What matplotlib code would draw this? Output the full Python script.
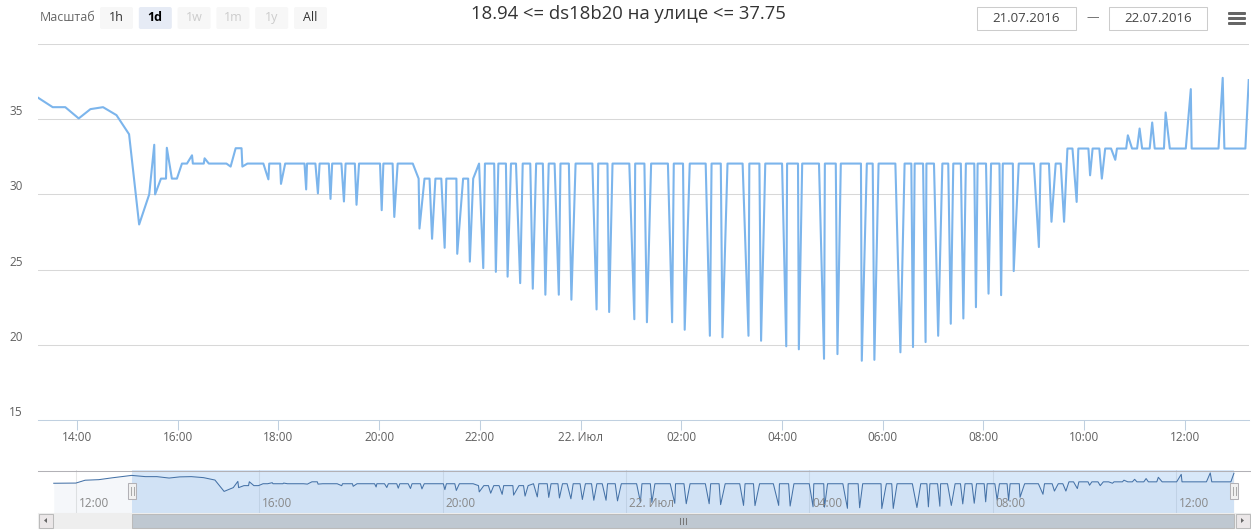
import matplotlib
matplotlib.use("Agg")
import matplotlib.pyplot as plt
import matplotlib.dates as mdates
from matplotlib.patches import Rectangle, FancyBboxPatch, Polygon
from matplotlib.ticker import FuncFormatter
from matplotlib.transforms import offset_copy
import pandas as pd

plt.rcParams['font.family'] = ['Open Sans', 'DejaVu Sans']

W, H = 1251, 530

######  data  ######

chart_title = "18.94 <= ds18b20 на улице <= 37.75"

times = [
    "21 11:31", "21 12:00", "21 12:12", "21 12:30", "21 12:48", "21 13:04", "21 13:13",
    "21 13:31", "21 13:46", "21 14:02", "21 14:16", "21 14:31", "21 14:47", "21 15:02", "21 15:14",
    "21 15:26", "21 15:32", "21 15:33", "21 15:40", "21 15:46", "21 15:47", "21 15:53", "21 15:59",
    "21 16:05", "21 16:11", "21 16:17", "21 16:18", "21 16:31", "21 16:32", "21 16:37", "21 16:58",
    "21 17:03", "21 17:09", "21 17:16", "21 17:17", "21 17:23", "21 17:42", "21 17:48", "21 17:49",
    "21 18:02", "21 18:03", "21 18:08", "21 18:31", "21 18:33", "21 18:34", "21 18:44", "21 18:47", "21 18:49",
    "21 19:00", "21 19:02", "21 19:04", "21 19:15", "21 19:18", "21 19:20", "21 19:31", "21 19:33", "21 19:36",
    "21 20:01", "21 20:03", "21 20:05", "21 20:16", "21 20:18", "21 20:22", "21 20:40", "21 20:47", "21 20:48",
    "21 20:54", "21 21:00", "21 21:03", "21 21:07", "21 21:14", "21 21:18", "21 21:20", "21 21:32", "21 21:33",
    "21 21:40", "21 21:46", "21 21:48", "21 21:52", "21 21:59", "21 22:04", "21 22:06", "21 22:17", "21 22:19",
    "21 22:22", "21 22:31", "21 22:33", "21 22:37", "21 22:43", "21 22:48", "21 22:51", "21 23:00", "21 23:03",
    "21 23:07", "21 23:15", "21 23:18", "21 23:22", "21 23:29", "21 23:34", "21 23:36", "21 23:46", "21 23:49", "21 23:54",
    "22 00:14", "22 00:19", "22 00:21", "22 00:32", "22 00:34", "22 00:38", "22 00:58", "22 01:04", "22 01:05",
    "22 01:16", "22 01:19", "22 01:24", "22 01:44", "22 01:49", "22 01:51", "22 02:02", "22 02:04", "22 02:10",
    "22 02:29", "22 02:34", "22 02:36", "22 02:47", "22 02:49", "22 02:55", "22 03:13", "22 03:20", "22 03:21",
    "22 03:33", "22 03:35", "22 03:40", "22 04:00", "22 04:05", "22 04:06", "22 04:19", "22 04:20", "22 04:24",
    "22 04:44", "22 04:50", "22 04:51", "22 05:04", "22 05:06", "22 05:10", "22 05:34", "22 05:35", "22 05:41",
    "22 05:48", "22 05:50", "22 05:55", "22 06:15", "22 06:21", "22 06:26", "22 06:34", "22 06:36", "22 06:38",
    "22 06:48", "22 06:51", "22 06:52", "22 07:01", "22 07:06", "22 07:11", "22 07:18", "22 07:21", "22 07:24",
    "22 07:33", "22 07:36", "22 07:39", "22 07:49", "22 07:51", "22 07:53", "22 08:03", "22 08:06", "22 08:09",
    "22 08:19", "22 08:21", "22 08:23", "22 08:35", "22 08:36", "22 08:42", "22 09:00", "22 09:06", "22 09:08",
    "22 09:18", "22 09:21", "22 09:26", "22 09:32", "22 09:36", "22 09:40", "22 09:46", "22 09:51", "22 09:53",
    "22 10:05", "22 10:07", "22 10:10", "22 10:18", "22 10:21", "22 10:25", "22 10:32", "22 10:37", "22 10:39",
    "22 10:50", "22 10:52", "22 10:57", "22 11:03", "22 11:06", "22 11:09", "22 11:18", "22 11:21", "22 11:24",
    "22 11:35", "22 11:37", "22 11:42", "22 12:01", "22 12:07", "22 12:08", "22 12:40", "22 12:45", "22 12:47",
    "22 13:12", "22 13:16",
]

temps = [
    32.3, 32.4, 33.9, 34.2, 35.2, 36.0, 36.45,
    35.8, 35.8, 35.05, 35.67, 35.8, 35.27, 34.0, 28.0,
    30.0, 33.3, 30.0, 31.05, 31.05, 33.1, 31.05, 31.05,
    32.05, 32.05, 32.6, 32.05, 32.05, 32.4, 32.05, 32.05,
    31.85, 33.07, 33.07, 31.85, 32.05, 32.05, 31.0, 32.05,
    32.05, 30.7, 32.05, 32.05, 30.33, 32.05, 32.05, 30.07, 32.05,
    32.05, 29.7, 32.05, 32.05, 29.53, 32.05, 32.05, 29.31, 32.05,
    32.05, 28.95, 32.05, 32.05, 28.5, 32.05, 32.05, 31.05, 27.73,
    31.05, 31.05, 27.05, 31.05, 31.05, 26.45, 31.05, 31.05, 26.05,
    31.05, 31.05, 25.53, 31.05, 32.05, 25.1, 32.05, 32.05, 24.85,
    32.05, 32.05, 24.53, 32.05, 32.05, 24.1, 32.05, 32.05, 23.73,
    32.05, 32.05, 23.33, 32.05, 32.05, 23.33, 32.05, 32.05, 23.0, 32.05,
    32.05, 22.35, 32.05, 32.05, 22.18, 32.05, 32.05, 21.7, 32.05,
    32.05, 21.5, 32.05, 32.05, 21.5, 32.05, 32.05, 21.0, 32.05,
    32.05, 20.6, 32.05, 32.05, 20.5, 32.05, 32.05, 20.6, 32.05,
    32.05, 20.27, 32.05, 32.05, 19.9, 32.05, 32.05, 19.7, 32.05,
    32.05, 19.07, 32.05, 32.05, 19.38, 32.05, 32.05, 18.94, 32.05,
    32.05, 19.0, 32.05, 32.05, 19.5, 32.05, 32.05, 19.85, 32.05,
    32.05, 20.18, 32.05, 32.05, 20.6, 32.05, 32.05, 21.4, 32.05,
    32.05, 21.75, 32.05, 32.05, 22.5, 32.05, 32.05, 23.4, 32.05,
    32.05, 23.3, 32.05, 32.05, 24.9, 32.05, 32.05, 26.5, 32.05,
    32.05, 28.18, 32.05, 32.05, 28.18, 33.05, 33.05, 29.5, 33.05,
    33.05, 31.27, 33.05, 33.05, 31.05, 33.05, 33.05, 32.3, 33.05,
    33.05, 33.93, 33.05, 33.05, 34.38, 33.05, 33.05, 34.78, 33.05,
    33.05, 35.45, 33.05, 33.05, 37.0, 33.05, 33.05, 37.75, 33.05,
    33.05, 37.6,
]
assert len(times) == len(temps)

y_labels = [15, 20, 25, 30, 35]
y_grid = [20, 25, 30, 35, 40]
month_short = {7: "Июл"}

zoom_label = "Масштаб"
range_buttons = ["1h", "1d", "1w", "1m", "1y", "All"]
selected_button = "1d"
disabled_buttons = ["1w", "1m", "1y"]
date_from = "21.07.2016"
date_to = "22.07.2016"

view_start = pd.Timestamp("2016-07-21 13:13:30")
view_end = pd.Timestamp("2016-07-22 13:16:20")
nav_start = pd.Timestamp("2016-07-21 11:30")
nav_end = pd.Timestamp("2016-07-22 13:20")

t = pd.to_datetime(["2016-07-" + s for s in times])


def px_box(x0, y0, x1, y1):
    # pixel box (top-left origin) -> figure fraction rect
    return [x0 / W, 1 - y1 / H, (x1 - x0) / W, (y1 - y0) / H]


def time_label(v, pos=None):
    d = mdates.num2date(v)
    if d.hour == 0 and d.minute == 0:
        return "{}. {}".format(d.day, month_short[d.month])
    return d.strftime("%H:%M")


fig = plt.figure(figsize=(W / 100, H / 100), dpi=100)

######  main chart  ######

ax = fig.add_axes(px_box(38, 44, 1249, 420))
ax.plot(t, temps, color="#7cb5ec", lw=1.5, solid_joinstyle="round", zorder=3)
ax.set_xlim(view_start, view_end)
ax.set_ylim(15, 40)
for v in y_grid:
    ax.axhline(v, color="#d8d8d8", lw=0.75, zorder=1)
for side in ["left", "right", "top"]:
    ax.spines[side].set_visible(False)
ax.spines["bottom"].set_color("#c0d0e0")
ax.spines["bottom"].set_linewidth(0.75)
ax.set_yticks([])
ax.xaxis.set_major_locator(mdates.HourLocator(byhour=range(0, 24, 2)))
ax.xaxis.set_major_formatter(FuncFormatter(time_label))
ax.tick_params(axis="x", length=7, width=0.75, color="#c0d0e0",
               labelcolor="#606060", labelsize=8.5, pad=1)
ylab_tr = offset_copy(ax.get_yaxis_transform(), fig=fig, x=-29, y=1, units="dots")
for v in y_labels:
    ax.text(0, v, str(v), transform=ylab_tr, ha="left", va="bottom",
            fontsize=8.5, color="#606060")

######  navigator  ######

axn = fig.add_axes(px_box(53, 470, 1237, 513))
axn.set_xlim(nav_start, nav_end)
axn.set_ylim(16.6, 39.3)
axn.fill_between(t, temps, 16.6, color="#4572A7", alpha=0.05, lw=0)
axn.plot(t, temps, color="#4572A7", lw=0.75)
axn.axvspan(view_start, view_end, color=(128 / 255, 179 / 255, 236 / 255), alpha=0.3, lw=0)
nav_ticks = mdates.HourLocator(byhour=range(0, 24, 4)).tick_values(nav_start, nav_end)
for loc in nav_ticks:
    if mdates.date2num(nav_start) < loc < mdates.date2num(nav_end):
        axn.axvline(loc, color="#e6e6e6", lw=0.75, zorder=0)
        axn.text(loc, 0.23, time_label(loc),
                 transform=offset_copy(axn.get_xaxis_transform(), fig=fig, x=3, units="dots"),
                 ha="left", va="center", fontsize=8.5, color="#888888")
axn.set_xticks([])
axn.set_yticks([])
for s in axn.spines.values():
    s.set_visible(False)


def nav_px(ts):
    n0, n1 = mdates.date2num(nav_start), mdates.date2num(nav_end)
    return 53 + (mdates.date2num(ts) - n0) / (n1 - n0) * (1237 - 53)


######  chrome (pixel overlay)  ######

ui = fig.add_axes([0, 0, 1, 1], zorder=5)
ui.set_xlim(0, W)
ui.set_ylim(H, 0)
ui.axis("off")
ui.patch.set_alpha(0)

ui.text(628, 14, chart_title, ha="center", va="center", fontsize=13.3, color="#333333")

# range selector
ui.text(40, 17.5, zoom_label, ha="left", va="center", fontsize=9, color="#666666")
for i, b in enumerate(range_buttons):
    x0 = 100 + i * 38.8
    fc = "#e6ebf5" if b == selected_button else "#f7f7f7"
    ui.add_patch(FancyBboxPatch((x0, 7), 33, 22, boxstyle="round,pad=0,rounding_size=2",
                                fc=fc, ec="none"))
    col = "#cccccc" if b in disabled_buttons else ("#000000" if b == selected_button else "#333333")
    ui.text(x0 + 16.5, 17.5, b, ha="center", va="center", fontsize=9, color=col,
            fontweight="bold" if b == selected_button else "normal")

# date inputs
for (x0, x1), txt in zip([(977, 1076), (1109, 1207)], [date_from, date_to]):
    ui.add_patch(Rectangle((x0, 7), x1 - x0, 23, fc="white", ec="#cccccc", lw=0.75))
    ui.text((x0 + x1) / 2, 18, txt, ha="center", va="center", fontsize=9.5, color="#444444")
ui.text(1093, 17.5, "—", ha="center", va="center", fontsize=9, color="#666666")

# export menu icon
for yy in [13.5, 18.5, 23.5]:
    ui.add_patch(FancyBboxPatch((1228, yy - 1.5), 18, 3, boxstyle="round,pad=0,rounding_size=1",
                                fc="#666666", ec="none"))

# navigator outline
ui.plot([38, W], [470.5, 470.5], color="#b2b1b6", lw=0.75)

# scrollbar
ui.add_patch(Rectangle((38, 513), 1212, 15, fc="#eeeeee", ec="#eeeeee", lw=0.75))
for bx, arrow in [(38.5, -1), (1235.5, 1)]:
    ui.add_patch(Rectangle((bx, 513.5), 14, 14, fc="#ebe7e8", ec="#bbbbbb", lw=0.75))
    cx = bx + 7
    ui.add_patch(Polygon([(cx - 1.5 * arrow, 520.5 - 2.5), (cx - 1.5 * arrow, 520.5 + 2.5),
                          (cx + 1.5 * arrow, 520.5)], closed=True, fc="#666666", ec="none"))
tx0, tx1 = nav_px(view_start), nav_px(view_end)
ui.add_patch(Rectangle((tx0, 513.5), tx1 - tx0, 14, fc="#bfc8d1", ec="#bbbbbb", lw=0.75))
cx = (tx0 + tx1) / 2
for dx in [-3, 0, 3]:
    ui.plot([cx + dx, cx + dx], [517.5, 523.5], color="#777777", lw=0.75)

# navigator handles
for hx in [tx0, tx1]:
    ui.add_patch(Rectangle((hx - 4, 483), 8, 16, fc="#f2f2f2", ec="#b2b1b6", lw=0.75))
    for dx in [-1.5, 1.5]:
        ui.plot([hx + dx, hx + dx], [487, 495], color="#aaaaaa", lw=0.75)

fig.savefig("out.png", dpi=100, facecolor="white")
